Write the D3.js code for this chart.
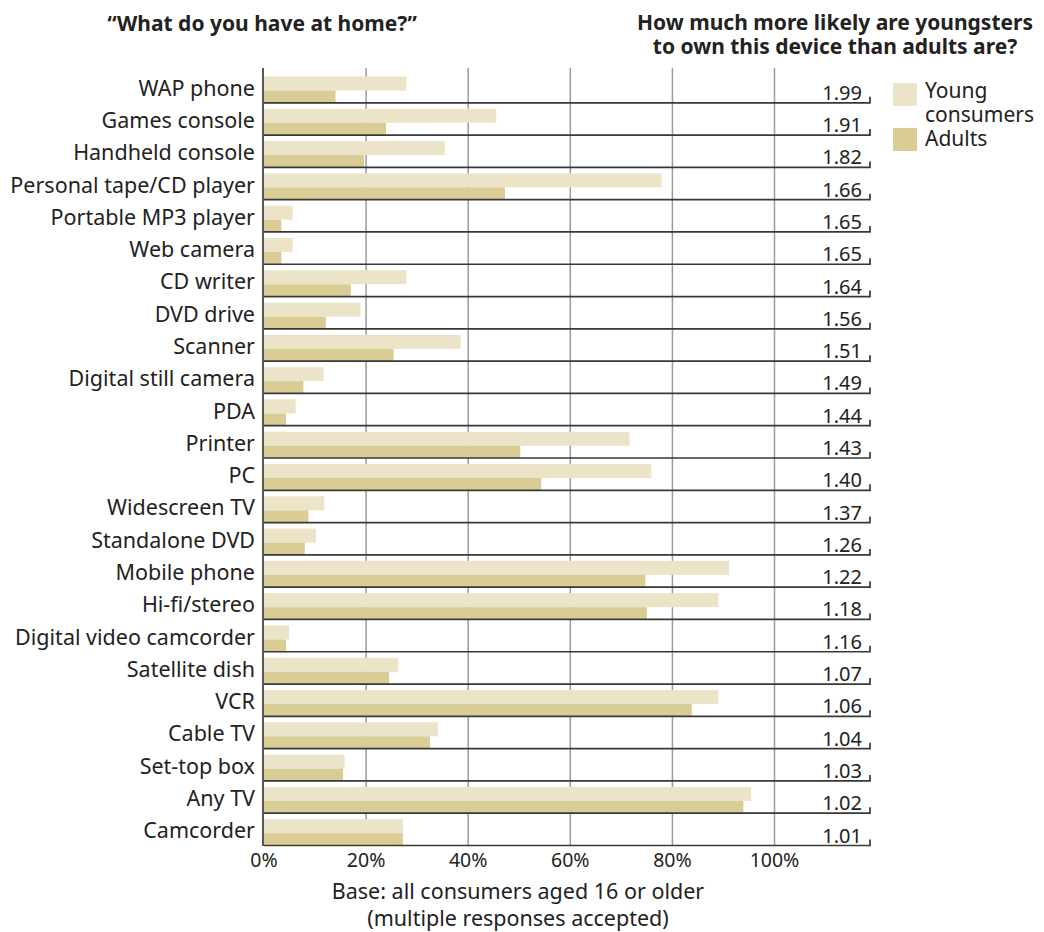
<!DOCTYPE html>
<html lang="en">
<head>
    <meta charset="UTF-8"/>
    <title>What do you have at home?</title>
    <script src="https://d3js.org/d3.v7.min.js"></script>
    <style>
        html, body {
            margin: 0;
            padding: 0;
            background: #fff;
        }
        svg text {
            font-family: "Noto Sans", "Open Sans", sans-serif;
            fill: #222;
        }
        .title {
            font-weight: bold;
            font-size: 21px;
        }
    </style>
</head>
<body>
    <div id="chart"></div>
    <script>
        // data
        var devices = ["WAP phone", "Games console", "Handheld console", "Personal tape/CD player",
            "Portable MP3 player", "Web camera", "CD writer", "DVD drive", "Scanner",
            "Digital still camera", "PDA", "Printer", "PC", "Widescreen TV", "Standalone DVD",
            "Mobile phone", "Hi-fi/stereo", "Digital video camcorder", "Satellite dish", "VCR",
            "Cable TV", "Set-top box", "Any TV", "Camcorder"];
        var young = [27.9, 45.5, 35.4, 77.9, 5.6, 5.6, 27.9, 18.9, 38.5, 11.7, 6.2, 71.6,
            75.9, 11.8, 10.2, 91.1, 89.0, 4.9, 26.3, 89.0, 34.1, 15.8, 95.4, 27.2];
        var adults = [14.0, 23.9, 19.6, 47.2, 3.4, 3.4, 17.0, 12.1, 25.4, 7.7, 4.3, 50.2,
            54.3, 8.7, 8.0, 74.7, 75.0, 4.3, 24.5, 83.8, 32.5, 15.5, 93.9, 27.2];
        var ratios = ["1.99", "1.91", "1.82", "1.66", "1.65", "1.65", "1.64", "1.56", "1.51",
            "1.49", "1.44", "1.43", "1.40", "1.37", "1.26", "1.22", "1.18", "1.16", "1.07",
            "1.06", "1.04", "1.03", "1.02", "1.01"];
        var ticks = [0, 20, 40, 60, 80, 100];
        var seriesNames = ["Young consumers", "Adults"];

        var w = 1044, h = 932;
        var colLight = "#ebe4c8", colDark = "#d9cc94";

        var svg = d3.select("#chart")
                    .append("svg")
                    .attr("width", w)
                    .attr("height", h);

        var x = d3.scaleLinear().domain([0, 100]).range([264, 774.5]);
        var y = d3.scaleBand().domain(devices).range([70.5, 845.5]);
        var rowH = y.bandwidth();
        var lineEnd = 870;

        // vertical gridlines
        svg.selectAll("line.grid")
            .data(ticks.slice(1))
            .enter()
            .append("line")
            .attr("class", "grid")
            .attr("x1", function(d) { return x(d); })
            .attr("x2", function(d) { return x(d); })
            .attr("y1", 68)
            .attr("y2", 845.5)
            .attr("stroke", "#9a9a9a")
            .attr("stroke-width", 1.5);

        // bars - young
        svg.selectAll("rect.young")
            .data(devices)
            .enter()
            .append("rect")
            .attr("class", "young")
            .attr("x", x(0))
            .attr("y", function(d) { return y(d) + 6; })
            .attr("width", function(d, i) { return x(young[i]) - x(0); })
            .attr("height", 14)
            .attr("fill", colLight);

        // bars - adults
        svg.selectAll("rect.adult")
            .data(devices)
            .enter()
            .append("rect")
            .attr("class", "adult")
            .attr("x", x(0))
            .attr("y", function(d) { return y(d) + 20; })
            .attr("width", function(d, i) { return x(adults[i]) - x(0); })
            .attr("height", rowH - 20)
            .attr("fill", colDark);

        // row separators with the little end tick
        svg.selectAll("path.sep")
            .data(devices)
            .enter()
            .append("path")
            .attr("class", "sep")
            .attr("d", function(d) {
                var yy = y(d) + rowH;
                return "M" + x(0) + "," + yy + "H" + lineEnd + "V" + (yy - 6);
            })
            .attr("fill", "none")
            .attr("stroke", "#383838")
            .attr("stroke-width", 1.7);

        // y axis line
        svg.append("line")
            .attr("x1", 263).attr("x2", 263)
            .attr("y1", 68).attr("y2", 846)
            .attr("stroke", "#383838")
            .attr("stroke-width", 1.7);

        // category labels
        svg.selectAll("text.cat")
            .data(devices)
            .enter()
            .append("text")
            .attr("class", "cat")
            .attr("x", 255)
            .attr("y", function(d) { return y(d) + rowH / 2 + 9; })
            .attr("text-anchor", "end")
            .style("font-size", "21.5px")
            .text(function(d) { return d; });

        // ratio values
        svg.selectAll("text.ratio")
            .data(devices)
            .enter()
            .append("text")
            .attr("class", "ratio")
            .attr("x", 862)
            .attr("y", function(d) { return y(d) + rowH - 3; })
            .attr("text-anchor", "end")
            .style("font-size", "20px")
            .text(function(d, i) { return ratios[i]; });

        // x tick labels
        svg.selectAll("text.tick")
            .data(ticks)
            .enter()
            .append("text")
            .attr("class", "tick")
            .attr("x", function(d) { return x(d); })
            .attr("y", 867)
            .attr("text-anchor", "middle")
            .style("font-size", "19.5px")
            .text(function(d) { return d + "%"; });

        // base note
        svg.append("text")
            .attr("x", 518).attr("y", 899)
            .attr("text-anchor", "middle")
            .style("font-size", "21.5px")
            .text("Base: all consumers aged 16 or older");
        svg.append("text")
            .attr("x", 518).attr("y", 926)
            .attr("text-anchor", "middle")
            .style("font-size", "21.5px")
            .text("(multiple responses accepted)");

        // titles
        svg.append("text")
            .attr("class", "title")
            .attr("x", 262).attr("y", 31)
            .attr("text-anchor", "middle")
            .text("\u201cWhat do you have at home?\u201d");
        svg.append("text")
            .attr("class", "title")
            .attr("x", 835).attr("y", 30)
            .attr("text-anchor", "middle")
            .text("How much more likely are youngsters");
        svg.append("text")
            .attr("class", "title")
            .attr("x", 835).attr("y", 54)
            .attr("text-anchor", "middle")
            .text("to own this device than adults are?");

        // legend
        var legend = svg.append("g");
        legend.selectAll("rect")
            .data(seriesNames)
            .enter()
            .append("rect")
            .attr("x", 893)
            .attr("y", function(d, i) { return i === 0 ? 83 : 128; })
            .attr("width", 24)
            .attr("height", 23)
            .attr("fill", function(d, i) { return i === 0 ? colLight : colDark; });
        legend.append("text")
            .attr("x", 925).attr("y", 98)
            .style("font-size", "21px")
            .text("Young");
        legend.append("text")
            .attr("x", 925).attr("y", 122)
            .style("font-size", "21px")
            .text("consumers");
        legend.append("text")
            .attr("x", 925).attr("y", 146)
            .style("font-size", "21px")
            .text("Adults");
    </script>
</body>
</html>
